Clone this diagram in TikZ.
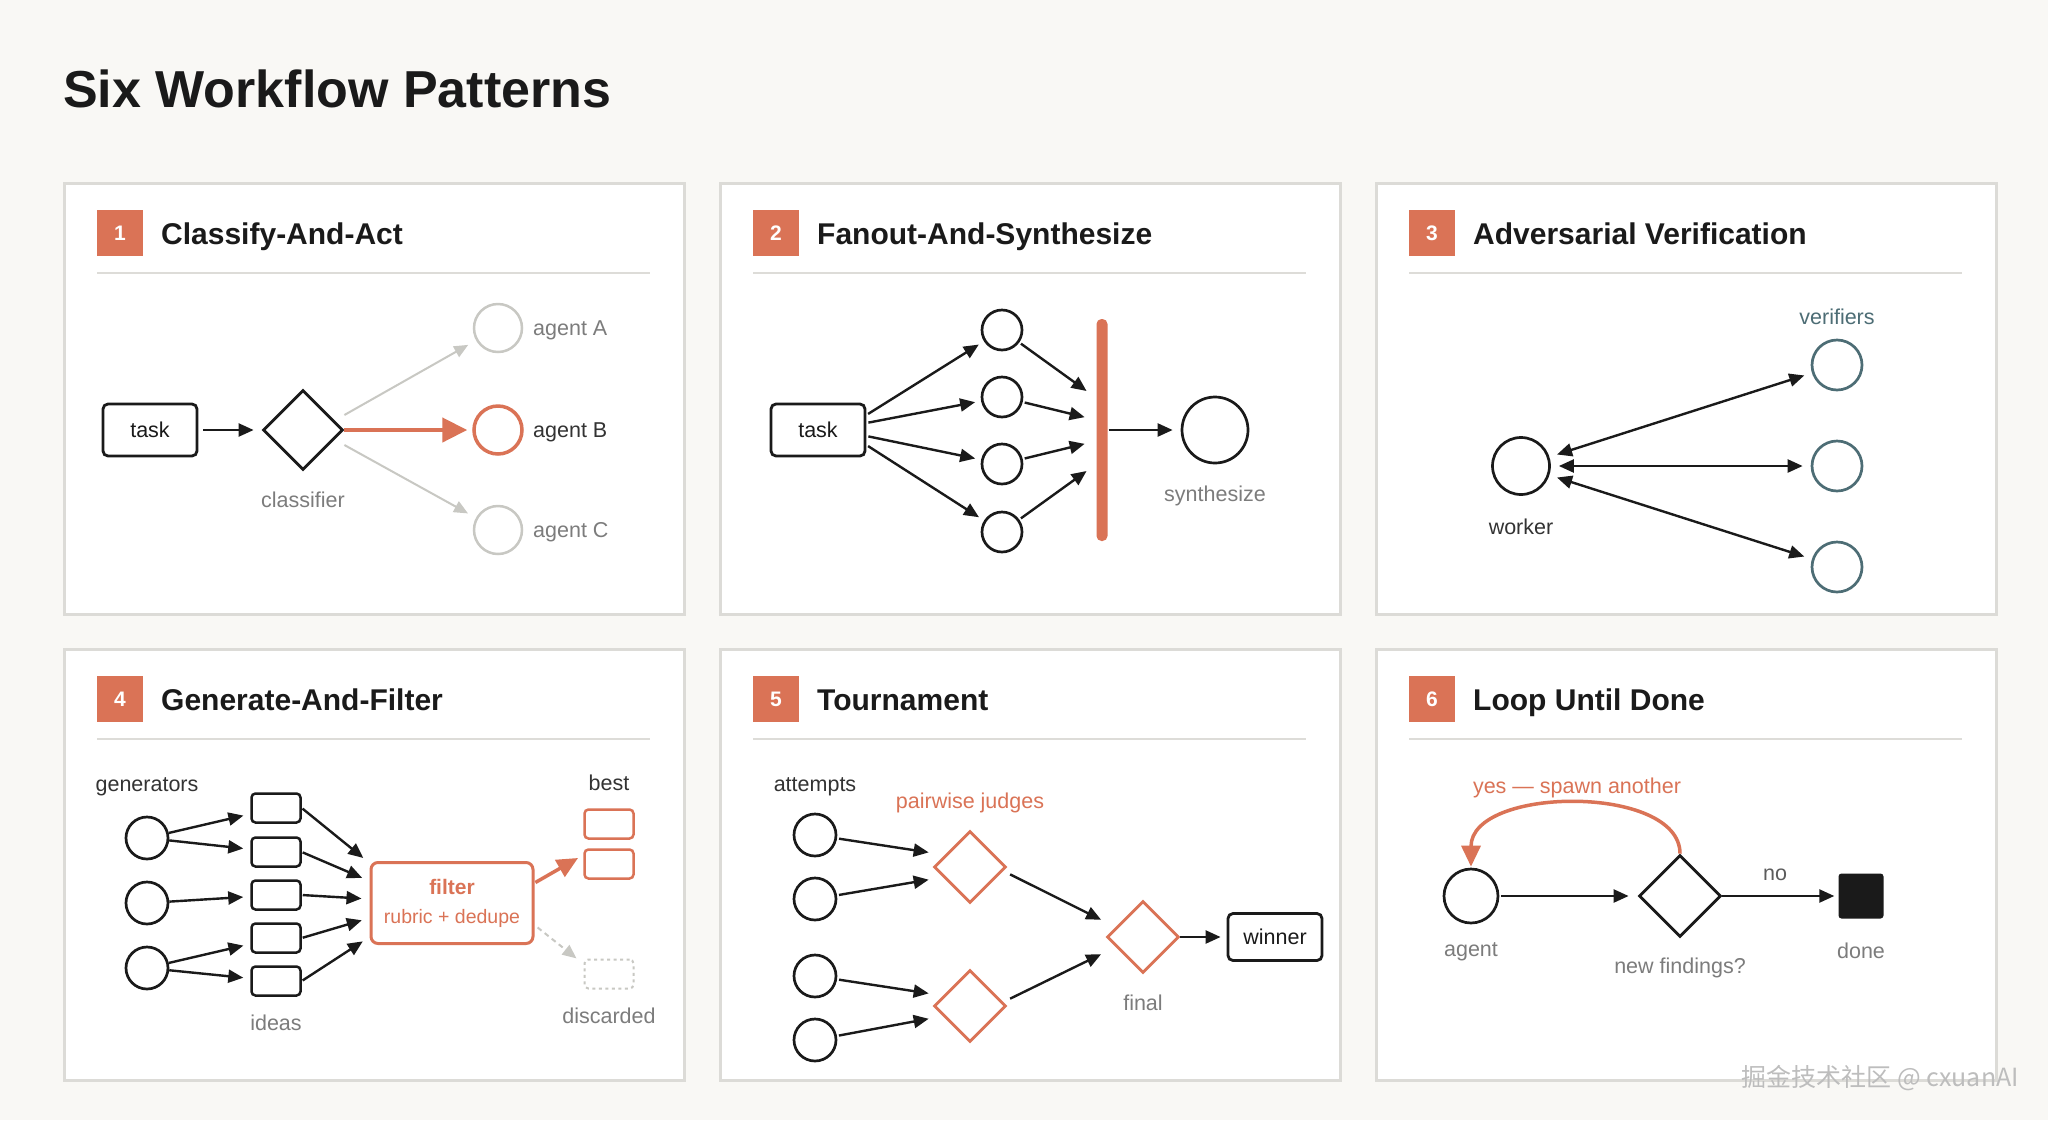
\documentclass[tikz,border=0pt]{standalone}
\usepackage{fontspec}
\setmainfont{Liberation Sans}
\newfontfamily\cjkfont{Noto Sans CJK SC}
\usetikzlibrary{arrows.meta,shapes.geometric,calc}
\definecolor{bg}{HTML}{F9F8F5}
\definecolor{accent}{HTML}{DA7356}
\definecolor{pborder}{HTML}{DCDBD7}
\definecolor{divcol}{HTML}{DDDCD8}
\definecolor{ink}{HTML}{1A1A1A}
\definecolor{dgray}{HTML}{333333}
\definecolor{labgray}{HTML}{7C7C7C}
\definecolor{lightg}{HTML}{C8C8C3}
\definecolor{tealc}{HTML}{4D6D75}
\definecolor{wmark}{HTML}{BDBDBD}
\newcommand\fs[1]{\fontsize{#1}{#1}\selectfont}
\newcommand\wfpanel[4]{%
  \node[panelbox] (panel#3) at (#1,#2) {};
  \node[badge] (badge#3) at (#1+57,#2+51) {#3};
  \node[ptitle] (title#3) at (#1+98,#2+62) {#4};
  \draw[divider] (#1+34,#2+91) -- (#1+587,#2+91);
}
\begin{document}
\begin{tikzpicture}[x=1pt,y=-1pt,
  panelbox/.style={draw=pborder, line width=2.5pt, fill=white, minimum width=620pt, minimum height=431pt, inner sep=0pt, anchor=north west},
  badge/.style={fill=accent, minimum width=46pt, minimum height=46pt, inner sep=0pt, text=white, font=\fs{21}\bfseries},
  ptitle/.style={anchor=base west, inner sep=0pt, text=ink, font=\fs{30}\bfseries},
  divider/.style={draw=divcol, line width=2pt},
  lbl/.style={font=\fs{21.5}, text=labgray, inner sep=0pt},
  dlbl/.style={font=\fs{21.5}, text=dgray, inner sep=0pt},
  olbl/.style={font=\fs{21.5}, text=accent, inner sep=0pt},
  sqbox/.style={draw=ink, line width=2.8pt, rounded corners=5pt, minimum width=94pt, minimum height=52pt, inner sep=0pt, font=\fs{21.5}, text=ink, fill=white},
  idea/.style={draw=ink, line width=2.5pt, rounded corners=4pt, minimum width=49pt, minimum height=29pt, inner sep=0pt},
  obox/.style={draw=accent, line width=2.5pt, rounded corners=4pt, minimum width=49pt, minimum height=29pt, inner sep=0pt},
  dot/.style={circle, draw=ink, line width=2.7pt, inner sep=0pt, fill=white},
  dia/.style={diamond, draw=ink, line width=2.8pt, inner sep=0pt, aspect=1, fill=white},
  odia/.style={diamond, draw=accent, line width=2.8pt, inner sep=0pt, aspect=1, fill=white, minimum size=72pt},
  arr/.style={draw=ink, line width=2.4pt, -{Triangle[length=15pt,width=13pt]}},
  darr/.style={draw=ink, line width=2.4pt, {Triangle[length=15pt,width=13pt]}-{Triangle[length=15pt,width=13pt]}},
  grarr/.style={draw=lightg, line width=2pt, -{Triangle[length=14pt,width=12pt]}},
  orarr/.style={draw=accent, line width=4.5pt, -{Triangle[length=25pt,width=24pt]}},
  orarr2/.style={draw=accent, line width=3.5pt, -{Triangle[length=21pt,width=19pt]}},
]
\useasboundingbox (0,0) rectangle (2048,1120);
\fill[bg] (0,0) rectangle (2048,1120);
\node[anchor=base west, inner sep=0pt, font=\fs{52}\bfseries, text=ink] (maintitle) at (63,107) {Six Workflow Patterns};

\wfpanel{63}{182}{1}{Classify-And-Act}
\wfpanel{719}{182}{2}{Fanout-And-Synthesize}
\wfpanel{1375}{182}{3}{Adversarial Verification}
\wfpanel{63}{648}{4}{Generate-And-Filter}
\wfpanel{719}{648}{5}{Tournament}
\wfpanel{1375}{648}{6}{Loop Until Done}

% ---------- Panel 1
\node[sqbox] (task1) at (150,430) {task};
\node[dia, minimum size=80pt] (cls) at (303,430) {};
\node[lbl] (clsl) at (303,500) {classifier};
\node[dot, draw=lightg, line width=2.5pt, minimum size=48pt] (agA) at (498,328) {};
\node[dot, draw=accent, line width=3.5pt, minimum size=48pt] (agB) at (498,430) {};
\node[dot, draw=lightg, line width=2.5pt, minimum size=48pt] (agC) at (498,530) {};
\node[lbl, anchor=west] (agAl) at (533,330) {agent A};
\node[dlbl, anchor=west] (agBl) at (533,432) {agent B};
\node[lbl, anchor=west] (agCl) at (533,532) {agent C};
\draw[arr, shorten <=5pt, shorten >=8pt] (task1) -- (cls);
\draw[grarr, shorten >=9pt] ([yshift=15pt]cls.east) -- (agA);
\draw[grarr, shorten >=9pt] ([yshift=-15pt]cls.east) -- (agC);
\draw[orarr, shorten >=5pt] (cls.east) -- (agB);

% ---------- Panel 2
\node[sqbox] (task2) at (818,430) {task};
\node[dot, minimum size=40pt] (f1) at (1002,330) {};
\node[dot, minimum size=40pt] (f2) at (1002,397) {};
\node[dot, minimum size=40pt] (f3) at (1002,464) {};
\node[dot, minimum size=40pt] (f4) at (1002,532) {};
\node[fill=accent, rounded corners=5pt, minimum width=11pt, minimum height=222pt, inner sep=0pt] (bar) at (1102,430) {};
\node[dot, minimum size=66pt] (syn) at (1215,430) {};
\node[lbl] (synl) at (1215,496) {synthesize};
\draw[arr, shorten <=2pt, shorten >=6pt] ([yshift=15pt]task2.east) -- (f1);
\draw[arr, shorten <=2pt, shorten >=6pt] ([yshift=7pt]task2.east) -- (f2);
\draw[arr, shorten <=2pt, shorten >=6pt] ([yshift=-6pt]task2.east) -- (f3);
\draw[arr, shorten <=2pt, shorten >=6pt] ([yshift=-15pt]task2.east) -- (f4);
\draw[arr, shorten <=2pt, shorten >=12pt] (f1) -- ([yshift=32pt]bar.west);
\draw[arr, shorten <=2pt, shorten >=12pt] (f2) -- ([yshift=10pt]bar.west);
\draw[arr, shorten <=2pt, shorten >=12pt] (f3) -- ([yshift=-11pt]bar.west);
\draw[arr, shorten <=2pt, shorten >=12pt] (f4) -- ([yshift=-34pt]bar.west);
\draw[arr, shorten <=1pt, shorten >=8pt] (bar.east) -- (syn);

% ---------- Panel 3
\node[dot, minimum size=57pt] (worker) at (1521,466) {};
\node[dlbl] (workerl) at (1521,527) {worker};
\node[dot, draw=tealc, minimum size=50pt] (v1) at (1837,365) {};
\node[dot, draw=tealc, minimum size=50pt] (v2) at (1837,466) {};
\node[dot, draw=tealc, minimum size=50pt] (v3) at (1837,567) {};
\node[lbl, text=tealc] (verl) at (1837,317) {verifiers};
\draw[darr, shorten <=8pt, shorten >=8pt] (worker) -- (v1);
\draw[darr, shorten <=8pt, shorten >=8pt] (worker) -- (v2);
\draw[darr, shorten <=8pt, shorten >=8pt] (worker) -- (v3);

% ---------- Panel 4
\node[dlbl] (genl) at (147,787) {generators};
\node[dot, minimum size=42pt] (g1) at (147,838) {};
\node[dot, minimum size=42pt] (g2) at (147,903) {};
\node[dot, minimum size=42pt] (g3) at (147,968) {};
\node[idea] (i1) at (276,808) {};
\node[idea] (i2) at (276,852) {};
\node[idea] (i3) at (276,895) {};
\node[idea] (i4) at (276,938) {};
\node[idea] (i5) at (276,981) {};
\node[lbl] (ideasl) at (276,1023) {ideas};
\node[draw=accent, line width=3pt, rounded corners=7pt, minimum width=162pt, minimum height=81pt, inner sep=0pt, align=center, text=accent, font=\fs{20}] (filter) at (452,903) {{\fs{21}\bfseries filter}\\[9pt]{\fs{19.5}rubric + dedupe}};
\node[obox] (b1) at (609,824) {};
\node[obox] (b2) at (609,864) {};
\node[dlbl] (bestl) at (609,783) {best};
\node[draw=lightg, line width=2pt, dash pattern=on 3pt off 3.5pt, rounded corners=4pt, minimum width=49pt, minimum height=29pt, inner sep=0pt] (disc) at (609,974) {};
\node[lbl] (discl) at (609,1016) {discarded};
\draw[arr, shorten >=7pt] (g1) -- (i1);
\draw[arr, shorten >=7pt] (g1) -- (i2);
\draw[arr, shorten >=7pt] (g2) -- (i3);
\draw[arr, shorten >=7pt] (g3) -- (i4);
\draw[arr, shorten >=7pt] (g3) -- (i5);
\draw[arr, shorten <=1pt, shorten >=8pt] (i1.east) -- ([yshift=40pt]filter.west);
\draw[arr, shorten <=1pt, shorten >=8pt] (i2.east) -- ([yshift=22pt]filter.west);
\draw[arr, shorten <=1pt, shorten >=8pt] (i3.east) -- ([yshift=4pt]filter.west);
\draw[arr, shorten <=1pt, shorten >=8pt] (i4.east) -- ([yshift=-15pt]filter.west);
\draw[arr, shorten <=1pt, shorten >=8pt] (i5.east) -- ([yshift=-34pt]filter.west);
\draw[orarr2, shorten <=1pt, shorten >=6pt] ([yshift=20pt]filter.east) -- ([yshift=9pt]b2.west);
\draw[draw=lightg, line width=2pt, dash pattern=on 5pt off 4pt, -{Triangle[length=14pt,width=12pt]}, shorten <=4pt, shorten >=9pt] ([yshift=-22pt]filter.east) -- ([yshift=10pt]disc.west);

% ---------- Panel 5
\node[dlbl] (attl) at (815,787) {attempts};
\node[olbl] (pjl) at (970,803) {pairwise judges};
\node[dot, minimum size=42pt] (a1) at (815,835) {};
\node[dot, minimum size=42pt] (a2) at (815,899) {};
\node[dot, minimum size=42pt] (a3) at (815,976) {};
\node[dot, minimum size=42pt] (a4) at (815,1040) {};
\node[odia] (j1) at (970,867) {};
\node[odia] (j2) at (970,1006) {};
\node[odia] (fin) at (1143,937) {};
\node[lbl] (finl) at (1143,1003) {final};
\node[sqbox, minimum height=47pt] (winner) at (1275,937) {winner};
\draw[arr, shorten <=2pt, shorten >=4pt] (a1) -- ([yshift=14pt]j1.west);
\draw[arr, shorten <=2pt, shorten >=4pt] (a2) -- ([yshift=-12pt]j1.west);
\draw[arr, shorten <=2pt, shorten >=4pt] (a3) -- ([yshift=12pt]j2.west);
\draw[arr, shorten <=2pt, shorten >=4pt] (a4) -- ([yshift=-12pt]j2.west);
\draw[arr, shorten <=3pt, shorten >=5pt] ([yshift=-6pt]j1.east) -- ([yshift=15pt]fin.west);
\draw[arr, shorten <=3pt, shorten >=5pt] ([yshift=6pt]j2.east) -- ([yshift=-15pt]fin.west);
\draw[arr, shorten >=6pt] (fin.east) -- (winner.west);

% ---------- Panel 6
\node[dot, minimum size=54pt] (agent) at (1471,896) {};
\node[lbl] (agentl) at (1471,952) {agent};
\node[dia, minimum size=82pt] (nf) at (1680,896) {};
\node[lbl] (nfl) at (1680,968) {new findings?};
\node[fill=ink, rounded corners=3pt, minimum size=45pt, inner sep=0pt] (done) at (1861,896) {};
\node[lbl] (donel) at (1861,951) {done};
\node[dlbl, text=dgray!80] (nol) at (1775,875) {no};
\node[olbl] (yesl) at (1577,788) {yes — spawn another};
\draw[arr, shorten <=2pt, shorten >=9pt] (agent) -- (nf);
\draw[arr, shorten >=4pt] (nf.east) -- (done.west);
\draw[orarr2, shorten >=1pt] (nf.north) .. controls (1680,784) and (1471,786) .. (agent.north);

% watermark
\node[anchor=east, inner sep=0pt, font=\cjkfont\fs{25}, text=wmark] (wm) at (2019,1078) {掘金技术社区 @ cxuanAI};
\end{tikzpicture}
\end{document}
